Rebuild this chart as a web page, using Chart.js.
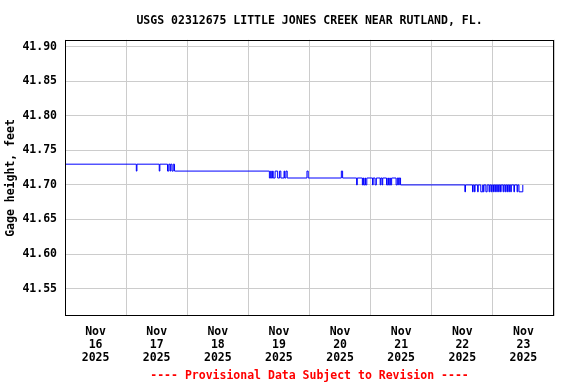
<!DOCTYPE html>
<html><head><meta charset="utf-8">
<script src="https://cdn.jsdelivr.net/npm/chart.js@4/dist/chart.umd.min.js"></script>
<style>html,body{margin:0;padding:0;background:#fff}</style>
</head><body>
<canvas id="c" width="576" height="384"></canvas>
<script>
const titleText = 'USGS 02312675 LITTLE JONES CREEK NEAR RUTLAND, FL.';
const yAxisTitle = 'Gage height, feet';
const footerText = '---- Provisional Data Subject to Revision ----';

// x-axis: hours since Nov 16 2025 00:00; labels centred at noon of each day
const dayCenters = [12, 36, 60, 84, 108, 132, 156, 180];
const dayLabels = [
  ['Nov', '16', '2025'], ['Nov', '17', '2025'], ['Nov', '18', '2025'], ['Nov', '19', '2025'],
  ['Nov', '20', '2025'], ['Nov', '21', '2025'], ['Nov', '22', '2025'], ['Nov', '23', '2025']
];
const yTicks = [41.55, 41.60, 41.65, 41.70, 41.75, 41.80, 41.85, 41.90];

// change points of the gage record (hour, value)
const hours = [
  0, 28.0, 28.25, 37.0, 37.25, 40.25, 40.75, 41.25, 41.5, 42.0, 42.5, 43.0,
  80.25, 80.75, 81.0, 81.5, 81.75, 82.5, 83.5, 84.25, 84.75, 86.0, 86.25, 86.75, 87.25,
  95.0, 95.5, 108.5, 109.0,
  114.5, 114.75, 116.75, 117.0, 117.25, 117.75, 118.0, 118.5, 120.75, 121.0, 121.75, 122.25,
  123.75, 124.0, 124.5, 124.75, 126.25, 126.75, 127.0, 127.5, 127.75, 128.25,
  130.0, 130.5, 131.0, 131.25, 131.75,
  157.0, 157.25,
  160.0, 160.25, 160.75, 161.0, 162.0, 162.25, 163.25, 164.0, 164.25, 164.5,
  165.25, 165.75, 166.5, 166.75, 167.25, 167.5, 168.0, 168.25, 168.75, 169.0,
  169.5, 169.75, 170.25, 170.5, 171.0, 171.25, 172.0, 172.25, 172.75, 173.0,
  173.5, 173.75, 174.25, 174.5, 175.0, 175.25, 176.25, 176.5, 177.5, 177.75,
  178.25, 179.75
];
const gage = [
  41.73, 41.72, 41.73, 41.72, 41.73, 41.72, 41.73, 41.72, 41.73, 41.72, 41.73, 41.72,
  41.71, 41.72, 41.71, 41.72, 41.71, 41.72, 41.71, 41.72, 41.71, 41.72, 41.71, 41.72, 41.71,
  41.72, 41.71, 41.72, 41.71,
  41.70, 41.71, 41.70, 41.71, 41.70, 41.71, 41.70, 41.71, 41.70, 41.71, 41.70, 41.71,
  41.70, 41.71, 41.70, 41.71, 41.70, 41.71, 41.70, 41.71, 41.70, 41.71,
  41.70, 41.71, 41.70, 41.71, 41.70,
  41.69, 41.70,
  41.69, 41.70, 41.69, 41.70, 41.69, 41.70, 41.69, 41.70, 41.69, 41.70,
  41.69, 41.70, 41.69, 41.70, 41.69, 41.70, 41.69, 41.70, 41.69, 41.70,
  41.69, 41.70, 41.69, 41.70, 41.69, 41.70, 41.69, 41.70, 41.69, 41.70,
  41.69, 41.70, 41.69, 41.70, 41.69, 41.70, 41.69, 41.70, 41.69, 41.70,
  41.69, 41.70
];

const FONT = "'DejaVu Sans Mono', monospace";
const FS = 11.5;

const frame = {
  id: 'frame',
  afterDraw(chart) {
    const a = chart.chartArea, ctx = chart.ctx;
    ctx.save();
    ctx.strokeStyle = '#000';
    ctx.lineWidth = 1;
    ctx.strokeRect(Math.round(a.left) + 0.5, Math.round(a.top) + 0.5,
      Math.round(a.right - a.left) - 1, Math.round(a.bottom - a.top) - 1);
    ctx.restore();
  }
};

new Chart(document.getElementById('c'), {
  type: 'line',
  data: {
    datasets: [{
      data: hours.map((h, i) => ({ x: h, y: gage[i] })),
      borderColor: '#0000ff',
      borderWidth: 1,
      pointRadius: 0,
      stepped: true,
      fill: false
    }]
  },
  options: {
    responsive: false,
    animation: false,
    devicePixelRatio: 1,
    layout: { padding: { left: 0, right: 22, top: 0, bottom: 0 } },
    plugins: {
      legend: { display: false },
      tooltip: { enabled: false },
      title: {
        display: true, text: titleText, color: '#000', fullSize: false,
        font: { family: FONT, size: FS, weight: 'bold' },
        padding: { top: 14, bottom: 12 }
      },
      subtitle: {
        display: true, text: footerText, position: 'bottom', color: '#ff0000', fullSize: false,
        font: { family: FONT, size: FS, weight: 'bold' },
        padding: { top: 7, bottom: 1 }
      }
    },
    scales: {
      x: {
        type: 'linear', min: 0, max: 192,
        afterBuildTicks: s => { s.ticks = dayCenters.map(v => ({ value: v })); },
        afterFit: s => { s.height = 46; },
        ticks: {
          color: '#000', padding: 9, maxRotation: 0, autoSkip: false,
          font: { family: FONT, size: FS, weight: 'bold', lineHeight: '13px' },
          callback: (v, i) => dayLabels[i]
        },
        grid: { color: '#cccccc', offset: true, drawTicks: false, lineWidth: 1 },
        border: { display: false }
      },
      y: {
        type: 'linear', min: 41.51, max: 41.91,
        afterBuildTicks: s => { s.ticks = yTicks.map(v => ({ value: v })); },
        afterFit: s => { s.width = 65; },
        ticks: {
          color: '#000', padding: 8,
          font: { family: FONT, size: FS, weight: 'bold' },
          callback: v => Number(v).toFixed(2)
        },
        title: {
          display: true, text: yAxisTitle, color: '#000',
          font: { family: FONT, size: FS, weight: 'bold' },
          padding: { top: 4, bottom: 4 }
        },
        grid: { color: '#cccccc', drawTicks: false, lineWidth: 1 },
        border: { display: false }
      }
    }
  },
  plugins: [frame]
});
</script>
</body></html>
